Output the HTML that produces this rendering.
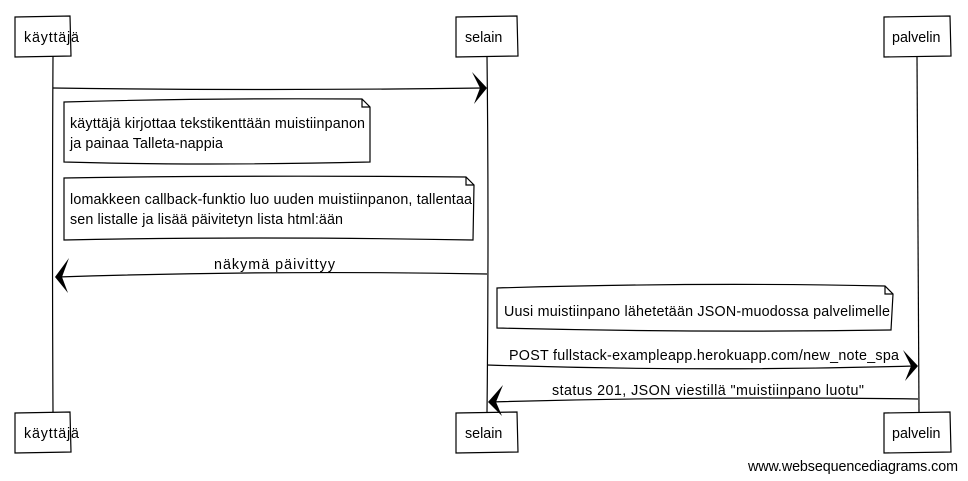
<!DOCTYPE html>
<html><head><meta charset="utf-8"><style>
html,body{margin:0;padding:0;background:#fff;width:968px;height:481px;overflow:hidden}
svg{display:block}
text{font-family:"Liberation Sans",Arial,sans-serif;font-size:14.3px;fill:#000}
</style></head><body>
<svg width="968" height="481" viewBox="0 0 968 481" xmlns="http://www.w3.org/2000/svg">
<g stroke="#000" stroke-width="1.2" fill="none">
<path d="M53 56 Q52 230 53 412"/>
<path d="M487 56 Q489 230 487 412"/>
<path d="M917 56 Q918 230 919 412"/>
<path d="M15 17 L70 16 L71 56 L15 57 Z" fill="#fff"/>
<path d="M456 17 L517 16 L518 56 L456 57 Z" fill="#fff"/>
<path d="M884 17 L950 16 L951 56 L884 57 Z" fill="#fff"/>
<path d="M15 413 L70 412 L71 452 L15 453 Z" fill="#fff"/>
<path d="M456 413 L517 412 L518 452 L456 453 Z" fill="#fff"/>
<path d="M884 413 L950 412 L951 452 L884 453 Z" fill="#fff"/>
<path d="M64 102 Q200 98 362 99 L370 107 L370 162 Q200 166 64 162 Z" fill="#fff"/>
<path d="M362 99 L362 107 L370 107"/>
<path d="M64 178 Q250 175 466 177 L474 185 L473 240 Q250 236 64 240 Z" fill="#fff"/>
<path d="M466 177 L466 185 L474 185"/>
<path d="M497 288 Q700 282 885 286 L893 294 L891 330 Q700 333 497 328 Z" fill="#fff"/>
<path d="M885 286 L885 294 L893 294"/>
<path d="M53 88 Q270 91 483 88"/>
<path d="M487 274 Q270 270 58 277"/>
<path d="M487 365 Q700 372 914 366"/>
<path d="M918 399 Q700 396 490 402"/>
</g>
<g fill="#000">
<path d="M472 72 L487 88 L474 104 L480 88 Z"/>
<path d="M69 258 L55 277 L68 293 L62 277 Z"/>
<path d="M903 350 L918 366 L905 381 L911 366 Z"/>
<path d="M503 385 L488 402 L502 416 L496 402 Z"/>
</g>
<text x="24" y="42" textLength="55">käyttäjä</text>
<text x="465" y="42">selain</text>
<text x="892" y="42">palvelin</text>
<text x="24" y="438" textLength="55">käyttäjä</text>
<text x="465" y="438">selain</text>
<text x="892" y="438">palvelin</text>
<text x="70" y="128" textLength="295">käyttäjä kirjottaa tekstikenttään muistiinpanon</text>
<text x="70" y="148" textLength="153">ja painaa Talleta-nappia</text>
<text x="70" y="204" textLength="402">lomakkeen callback-funktio luo uuden muistiinpanon, tallentaa</text>
<text x="70" y="224" textLength="273">sen listalle ja lisää päivitetyn lista html:ään</text>
<text x="214" y="269" textLength="121">näkymä päivittyy</text>
<text x="504" y="316" textLength="386">Uusi muistiinpano lähetetään JSON-muodossa palvelimelle</text>
<text x="509" y="360" textLength="390">POST fullstack-exampleapp.herokuapp.com/new_note_spa</text>
<text x="552" y="395" textLength="312">status 201, JSON viestillä "muistiinpano luotu"</text>
<text x="958" y="471" text-anchor="end" textLength="210">www.websequencediagrams.com</text>
</svg>
</body></html>
